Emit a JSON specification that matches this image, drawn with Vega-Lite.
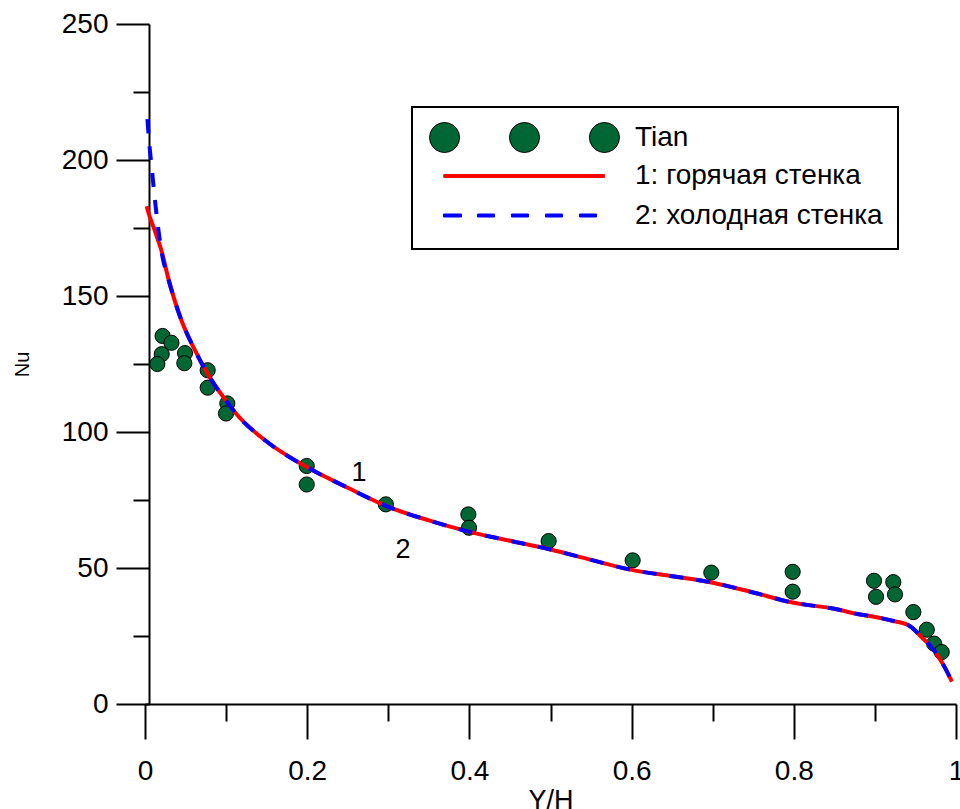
{
  "$schema": "https://vega.github.io/schema/vega-lite/v6.json",
  "width": 811,
  "height": 680,
  "autosize": {"type": "none"},
  "padding": {"left": 145, "top": 24, "right": 4, "bottom": 105},
  "background": "white",
  "config": {
    "view": {"stroke": null},
    "font": "Liberation Sans",
    "legend": {"strokeWidth": 2},
    "axis": {
      "domainColor": "black", "domainWidth": 2, "tickColor": "black", "tickWidth": 2,
      "labelColor": "black", "labelFont": "Liberation Sans", "labelFontSize": 28,
      "titleFont": "Liberation Sans", "titleColor": "black", "titleFontWeight": "normal", "grid": false
    }
  },
  "datasets": {
    "tian": [
      {"x": 0.0217, "nu": 135.3}, {"x": 0.0326, "nu": 132.8}, {"x": 0.0206, "nu": 128.6}, {"x": 0.0152, "nu": 125.0},
      {"x": 0.0493, "nu": 129.0}, {"x": 0.0485, "nu": 125.3}, {"x": 0.0773, "nu": 122.7}, {"x": 0.0773, "nu": 116.3},
      {"x": 0.1015, "nu": 110.5}, {"x": 0.0999, "nu": 106.8}, {"x": 0.1994, "nu": 87.5}, {"x": 0.1994, "nu": 80.7},
      {"x": 0.297, "nu": 73.4}, {"x": 0.3987, "nu": 69.7}, {"x": 0.3995, "nu": 64.8}, {"x": 0.4977, "nu": 59.9},
      {"x": 0.6013, "nu": 52.8}, {"x": 0.6983, "nu": 48.3}, {"x": 0.7986, "nu": 48.6}, {"x": 0.7986, "nu": 41.3},
      {"x": 0.8989, "nu": 45.3}, {"x": 0.9014, "nu": 39.4}, {"x": 0.9227, "nu": 44.8}, {"x": 0.9248, "nu": 40.3},
      {"x": 0.9474, "nu": 33.8}, {"x": 0.964, "nu": 27.3}, {"x": 0.973, "nu": 22.2}, {"x": 0.9824, "nu": 19.1}
    ],
    "hot": [
      {"x": 0.002, "nu": 183}, {"x": 0.006, "nu": 179}, {"x": 0.011, "nu": 175}, {"x": 0.015, "nu": 171.5},
      {"x": 0.02, "nu": 167}, {"x": 0.03, "nu": 155}, {"x": 0.045, "nu": 141}, {"x": 0.06, "nu": 131},
      {"x": 0.08, "nu": 120}, {"x": 0.1, "nu": 111.5}, {"x": 0.113, "nu": 106.5}, {"x": 0.15, "nu": 96.5},
      {"x": 0.2, "nu": 87}, {"x": 0.25, "nu": 79.5}, {"x": 0.3, "nu": 72.5}, {"x": 0.35, "nu": 67.5},
      {"x": 0.4, "nu": 63.3}, {"x": 0.45, "nu": 60}, {"x": 0.5, "nu": 56.8}, {"x": 0.55, "nu": 53},
      {"x": 0.6, "nu": 49.3}, {"x": 0.65, "nu": 47}, {"x": 0.7, "nu": 44.6}, {"x": 0.75, "nu": 41},
      {"x": 0.8, "nu": 37.2}, {"x": 0.85, "nu": 35}, {"x": 0.88, "nu": 33}, {"x": 0.9, "nu": 32},
      {"x": 0.923, "nu": 30.5}, {"x": 0.943, "nu": 28.7}, {"x": 0.958, "nu": 24.4}, {"x": 0.968, "nu": 21.5},
      {"x": 0.978, "nu": 17.5}, {"x": 0.987, "nu": 13}, {"x": 0.995, "nu": 8.2}
    ],
    "cold": [
      {"x": 0.003, "nu": 215}, {"x": 0.005, "nu": 207}, {"x": 0.008, "nu": 198}, {"x": 0.011, "nu": 189},
      {"x": 0.015, "nu": 178}, {"x": 0.02, "nu": 167}, {"x": 0.03, "nu": 155}, {"x": 0.045, "nu": 141}, {"x": 0.06, "nu": 131},
      {"x": 0.08, "nu": 120}, {"x": 0.1, "nu": 111.5}, {"x": 0.113, "nu": 106.5}, {"x": 0.15, "nu": 96.5},
      {"x": 0.2, "nu": 87}, {"x": 0.25, "nu": 79.5}, {"x": 0.3, "nu": 72.5}, {"x": 0.35, "nu": 67.5},
      {"x": 0.4, "nu": 63.3}, {"x": 0.45, "nu": 60}, {"x": 0.5, "nu": 56.8}, {"x": 0.55, "nu": 53},
      {"x": 0.6, "nu": 49.3}, {"x": 0.65, "nu": 47}, {"x": 0.7, "nu": 44.6}, {"x": 0.75, "nu": 41},
      {"x": 0.8, "nu": 37.2}, {"x": 0.85, "nu": 35}, {"x": 0.88, "nu": 33}, {"x": 0.9, "nu": 32},
      {"x": 0.923, "nu": 30.5}, {"x": 0.943, "nu": 28.7}, {"x": 0.958, "nu": 24.4}, {"x": 0.968, "nu": 21.5},
      {"x": 0.978, "nu": 17.5}, {"x": 0.987, "nu": 13}, {"x": 0.995, "nu": 8.2}
    ],
    "notes": [
      {"x": 0.264, "nu": 84.9, "label": "1"},
      {"x": 0.318, "nu": 56.6, "label": "2"}
    ],
    "series": [
      {"series": "Tian"}, {"series": "1: горячая стенка"}, {"series": "2: холодная стенка"}
    ]
  },
  "encoding": {
    "x": {
      "field": "x", "type": "quantitative",
      "scale": {"domain": [0, 1], "nice": false, "zero": false},
      "axis": {
        "title": "Y/H", "titleFontSize": 27, "titlePadding": 2,
        "values": [0, 0.1, 0.2, 0.3, 0.4, 0.5, 0.6, 0.7, 0.8, 0.9, 1],
        "labelExpr": "round(datum.value*10) % 2 == 0 ? toString(round(datum.value*10)/10) : ''",
        "tickSize": {"condition": {"test": "round(datum.value*10) % 2 == 1", "value": 17}, "value": 35},
        "labelPadding": 18, "labelFlush": false, "labelOverlap": false
      }
    },
    "y": {
      "field": "nu", "type": "quantitative",
      "scale": {"domain": [0, 250], "nice": false},
      "axis": {
        "title": "Nu", "titleFontSize": 20, "titlePadding": 29, "offset": -4,
        "values": [0, 25, 50, 75, 100, 125, 150, 175, 200, 225, 250],
        "labelExpr": "datum.value % 50 == 0 ? datum.label : ''",
        "tickSize": {"condition": {"test": "datum.value % 50 != 0", "value": 16}, "value": 33},
        "labelPadding": 8, "labelOverlap": false
      }
    }
  },
  "layer": [
    {
      "data": {"name": "tian"},
      "mark": {"type": "point", "filled": true, "size": 230, "fill": "#006633", "stroke": "black", "strokeWidth": 1, "opacity": 1}
    },
    {
      "data": {"name": "hot"},
      "mark": {"type": "line", "strokeWidth": 4, "interpolate": "monotone", "color": "#ff0000"}
    },
    {
      "data": {"name": "cold"},
      "mark": {"type": "line", "strokeWidth": 4, "strokeDash": [14, 13], "interpolate": "monotone", "color": "#0000ff"}
    },
    {
      "data": {"name": "notes"},
      "mark": {"type": "text", "fontSize": 27, "font": "Liberation Sans", "color": "black"},
      "encoding": {"text": {"field": "label"}}
    },
    {
      "data": {"name": "series"},
      "transform": [{"filter": "false"}],
      "mark": {"type": "point", "filled": true, "strokeWidth": 1},
      "encoding": {
        "x": {"datum": 0.5, "type": "quantitative"},
        "y": {"datum": 100, "type": "quantitative"},
        "fill": {
          "field": "series", "type": "nominal",
          "scale": {"domain": ["Tian", "1: горячая стенка", "2: холодная стенка"], "range": ["#006633", "#ff0000", "#0000ff"]},
          "legend": {
            "title": null, "orient": "none", "legendX": 267, "legendY": 83,
            "labelFontSize": 28, "labelFont": "Liberation Sans", "labelColor": "black", "labelLimit": 400,
            "symbolSize": 900, "symbolOpacity": 1, "symbolStrokeWidth": 1, "symbolOffset": 82, "labelOffset": 95, "rowPadding": 2.5,
            "strokeColor": "black", "fillColor": "white", "padding": 15
          }
        },
        "stroke": {
          "field": "series", "type": "nominal",
          "scale": {"domain": ["Tian", "1: горячая стенка", "2: холодная стенка"], "range": ["black", "#ff0000", "#0000ff"]},
          "legend": {
            "title": null, "orient": "none", "legendX": 267, "legendY": 83,
            "labelFontSize": 28, "labelFont": "Liberation Sans", "labelColor": "black", "labelLimit": 400,
            "symbolSize": 900, "symbolOpacity": 1, "symbolStrokeWidth": 1, "symbolOffset": 82, "labelOffset": 95, "rowPadding": 2.5,
            "strokeColor": "black", "fillColor": "white", "padding": 15
          }
        },
        "shape": {
          "field": "series", "type": "nominal",
          "scale": {
            "domain": ["Tian", "1: горячая стенка", "2: холодная стенка"],
            "range": [
              "M-4.33,0l-0.049,0.309l-0.142,0.279l-0.221,0.221l-0.279,0.142l-0.309,0.049l-0.309,-0.049l-0.279,-0.142l-0.221,-0.221l-0.142,-0.279l-0.049,-0.309l0.049,-0.309l0.142,-0.279l0.221,-0.221l0.279,-0.142l0.309,-0.049l0.309,0.049l0.279,0.142l0.221,0.221l0.142,0.279ZM1,0l-0.049,0.309l-0.142,0.279l-0.221,0.221l-0.279,0.142l-0.309,0.049l-0.309,-0.049l-0.279,-0.142l-0.221,-0.221l-0.142,-0.279l-0.049,-0.309l0.049,-0.309l0.142,-0.279l0.221,-0.221l0.279,-0.142l0.309,-0.049l0.309,0.049l0.279,0.142l0.221,0.221l0.142,0.279ZM6.33,0l-0.049,0.309l-0.142,0.279l-0.221,0.221l-0.279,0.142l-0.309,0.049l-0.309,-0.049l-0.279,-0.142l-0.221,-0.221l-0.142,-0.279l-0.049,-0.309l0.049,-0.309l0.142,-0.279l0.221,-0.221l0.279,-0.142l0.309,-0.049l0.309,0.049l0.279,0.142l0.221,0.221l0.142,0.279Z",
              "M0,-1.05ZM0,1.05ZM-5.38,-0.1H5.33V0.1H-5.38Z",
              "M0,-1.05ZM0,1.05ZM-5.4,-0.1H-4.2V0.1H-5.4ZM-3.13,-0.1H-2V0.1H-3.13ZM-0.87,-0.1H0.27V0.1H-0.87ZM1.4,-0.1H2.53V0.1H1.4ZM3.67,-0.1H4.8V0.1H3.67Z"
            ]
          },
          "legend": {
            "title": null, "orient": "none", "legendX": 267, "legendY": 83,
            "labelFontSize": 28, "labelFont": "Liberation Sans", "labelColor": "black", "labelLimit": 400,
            "symbolSize": 900, "symbolOpacity": 1, "symbolStrokeWidth": 1, "symbolOffset": 82, "labelOffset": 95, "rowPadding": 2.5,
            "strokeColor": "black", "fillColor": "white", "padding": 15
          }
        }
      }
    }
  ]
}
